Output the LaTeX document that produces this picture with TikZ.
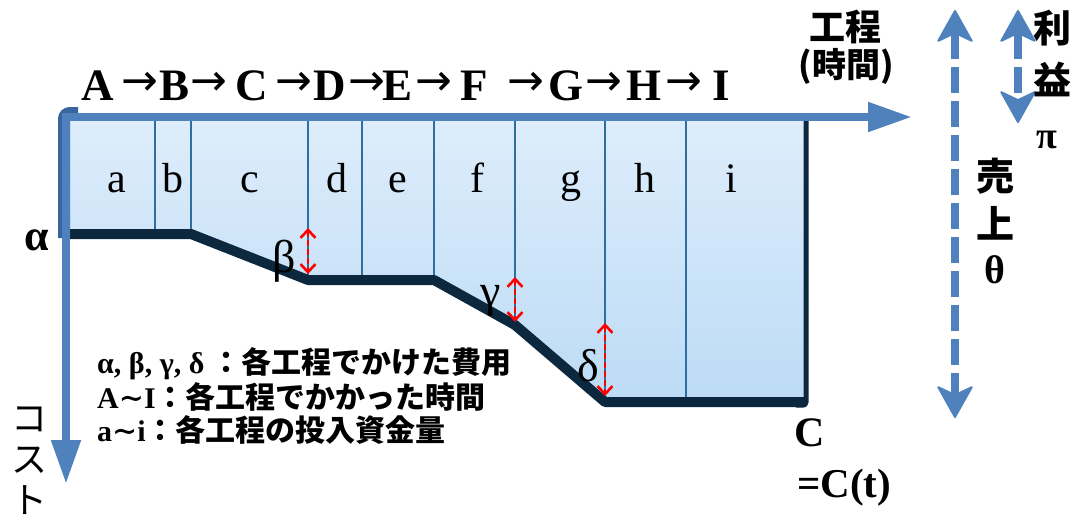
\documentclass[tikz,border=0pt]{standalone}
\usepackage{fontspec}
\setmainfont{Liberation Serif}
\newfontfamily\jp{Noto Sans CJK JP}
\newfontfamily\dvs{DejaVu Serif}
\newfontfamily\dvsans{DejaVu Sans}
\usetikzlibrary{arrows.meta}
\definecolor{axisblue}{RGB}{79,129,189}
\definecolor{edgeblue}{RGB}{56,100,160}
\definecolor{celltop}{RGB}{222,237,251}
\definecolor{cellbot}{RGB}{188,219,246}
\definecolor{costline}{RGB}{12,40,62}
\definecolor{divblue}{RGB}{46,110,160}
\tikzset{
  axis/.style={axisblue, line width=8pt, -{Triangle[length=44pt,width=28pt]}},
  dashdbl/.style={axisblue, line width=8pt, dash pattern=on 26pt off 8pt, {Stealth[length=34pt,width=38pt,inset=9pt,round,line width=2pt]}-{Stealth[length=34pt,width=38pt,inset=9pt,round,line width=2pt]}},
  gap/.style={red, line width=2.6pt, dash pattern=on 6pt off 3pt, {Straight Barb[length=8pt,width=15pt]}-{Straight Barb[length=8pt,width=15pt]}},
  divider/.style={divblue, line width=1.2pt},
  proc/.style={font=\fontsize{45}{48}\selectfont\bfseries, anchor=base, inner sep=0pt},
  procarrow/.style={font=\fontsize{44}{46}\dvsans, inner sep=0pt},
  cell/.style={font=\fontsize{42}{44}\selectfont, anchor=base, inner sep=0pt},
  greek/.style={font=\fontsize{46}{48}\selectfont, inner sep=0pt},
  boldlbl/.style={font=\fontsize{44}{46}\selectfont\bfseries, inner sep=0pt},
  jpbig/.style={font=\fontsize{38}{40}\jp\bfseries, inner sep=0pt},
  legend/.style={font=\fontsize{30}{32}\selectfont\bfseries, anchor=base west, inner sep=0pt}
}
\newcommand{\wave}{{\dvs\bfseries ∼}}
\begin{document}
\begin{tikzpicture}[x=1pt,y=-1pt]
\useasboundingbox (0,0) rectangle (1080,525);
\coordinate (O) at (66,117);
\coordinate (P0) at (66,234);
\coordinate (P1) at (191,234);
\coordinate (P2) at (308,280);
\coordinate (P3) at (434,280);
\coordinate (P4) at (515,325);
\coordinate (P5) at (605,402);
\coordinate (P6) at (806,402);
\coordinate (TR) at (806,117);
\shade[top color=celltop, bottom color=cellbot] (O) -- (TR) -- (P6) -- (P5) -- (P4) -- (P3) -- (P2) -- (P1) -- (P0) -- cycle;
\foreach \x/\y in {155/234,191/234,308/280,362/280,434/280,515/325,605/402,686/402}
  \draw[divider] (\x,117) -- (\x,\y);
\draw[costline, line width=10pt, line join=round] (64,234) -- (P1) -- (P2) -- (P3) -- (P4) -- (P5) -- (P6);
\draw[costline, line width=5pt, rounded corners=3pt] (TR) -- (806,405) -- (796,405);
\draw[edgeblue, line width=12pt, rounded corners=6pt] (64,238) -- (64,113) -- (78,113);
\coordinate (xend) at (912,117);
\coordinate (yend) at (66,484);
\draw[axis] (62,117) -- (xend);
\draw[axis] (66,113) -- (yend);
\coordinate (S1) at (955,10); \coordinate (S2) at (955,418);
\coordinate (R1) at (1018,10); \coordinate (R2) at (1018,123);
\draw[dashdbl] (S1) -- (S2);
\draw[dashdbl] (R1) -- (R2);
\draw[gap] (308,228) -- (308,274);
\draw[gap] (515,277) -- (515,322);
\draw[gap] (605,323) -- (605,396);
\foreach \p/\x in {A/98,B/175,C/252,D/330,E/398,F/474,G/566,H/644,I/721}
  \node[proc] (\p) at (\x,100) {\p};
\foreach \x [count=\k] in {140,209,294,367,434,526,604,684}
  \node[procarrow] (arr\k) at (\x,84) {→};
\foreach \q/\x in {a/117,b/173,c/250,d/337,e/398,f/477,g/571,h/645,i/731}
  \node[cell] (\q) at (\x,192) {\q};
\node[boldlbl] (alpha) at (37,240) {α};
\node[greek] (beta) at (284,261) {β};
\node[greek] (gamma) at (491,301) {γ};
\node[greek] (delta) at (588,366) {δ};
\node[font=\fontsize{36}{38}\jp\bfseries, inner sep=0pt] (koutei) at (845,27) {工程};
\node[font=\fontsize{34}{36}\jp\bfseries, inner sep=0pt] (jikan) at (846,66) {(時間)};
\node[jpbig] (ri) at (1052,28) {利};
\node[jpbig] (eki) at (1052,79) {益};
\node[font=\fontsize{38}{40}\selectfont\bfseries, inner sep=0pt] (pi) at (1047,140) {π};
\node[jpbig] (uri) at (995,176) {売};
\node[jpbig] (age) at (995,223) {上};
\node[boldlbl, font=\fontsize{40}{42}\selectfont\bfseries] (theta) at (995,270) {θ};
\node[font=\fontsize{42}{44}\selectfont\bfseries, anchor=base, inner sep=0pt] (cost) at (810,446) {C};
\node[font=\fontsize{41}{44}\selectfont\bfseries, anchor=base west, inner sep=0pt] (costt) at (797,497) {=C(t)};
\node[font=\fontsize{36}{41}\jp, align=center, inner sep=0pt] (costax) at (29,461) {コ\\ス\\ト};
\node[legend] (leg1) at (97,373) {α, β, γ, δ {\jp：各工程でかけた費用}};
\node[legend] (leg2) at (97,408) {A\wave I{\jp：各工程でかかった時間}};
\node[legend] (leg3) at (97,441) {a\wave i{\jp：各工程の投入資金量}};
\end{tikzpicture}
\end{document}
